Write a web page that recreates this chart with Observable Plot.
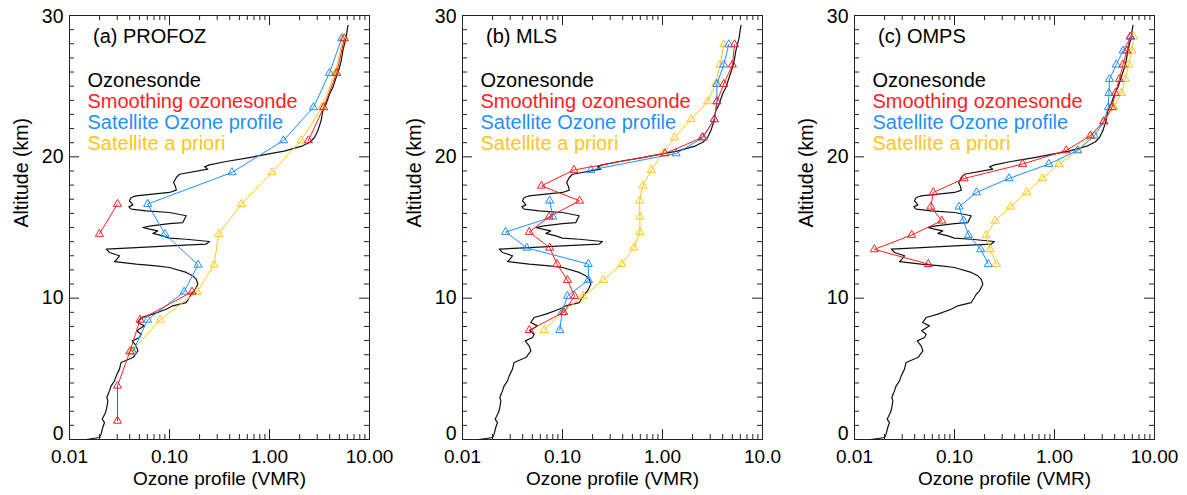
<!DOCTYPE html>
<html><head><meta charset="utf-8">
<script src="https://cdn.jsdelivr.net/npm/d3@7"></script>
<script src="https://cdn.jsdelivr.net/npm/@observablehq/plot@0.6"></script>
<style>
body{margin:0;background:#fff;}
#chart{position:relative;width:1187px;height:495px;overflow:hidden;background:#fff;}
.panel{position:absolute;top:0;}
.panel svg{overflow:visible;background:transparent;}
</style></head><body><div id="chart"></div>
<script>
// ---- Ozonesonde profile (shared by all panels): altitude (km) and VMR ----
const sondeAlt = [0.00,0.14,0.38,0.85,1.20,1.44,1.91,2.26,2.74,2.97,3.44,3.80,4.15,4.50,4.98,5.45,5.80,6.27,6.63,6.98,7.22,7.45,7.69,8.04,8.28,8.63,8.87,9.22,9.46,9.69,10.05,
  10.28,10.52,10.99,11.34,11.58,11.82,12.17,12.29,12.41,12.59,12.69,13.00,13.23,13.47,13.58,13.70,13.82,14.01,14.17,14.25,14.41,14.58,14.76,14.88,15.00,15.12,15.28,15.35,15.59,15.83,16.06,16.18,16.30,16.46,16.60,16.89,17.12,17.24,17.36,17.48,17.64,17.88,18.18,18.54,18.77,19.13,19.29,19.43,19.67,19.95,
  20.15,20.40,20.78,21.05,21.37,21.84,22.55,23.25,23.73,24.43,24.91,25.61,26.32,26.79,27.50,27.97,28.44,29.03,29.30];
const sondeVMR = [0.0147,0.0200,0.0207,0.0215,0.0224,0.0212,0.0229,0.0236,0.0242,0.0236,0.0251,0.0261,0.0282,0.0293,0.0316,0.0328,0.0430,0.0483,0.0464,0.0424,0.0501,0.0521,0.0470,0.0562,0.0480,0.0521,0.0681,0.0926,0.108,0.147,0.158,
  0.165,0.178,0.192,0.185,0.171,0.147,0.100,0.0736,0.0464,0.0282,0.0293,0.0316,0.0251,0.0233,0.0464,0.100,0.232,0.251,0.147,0.100,0.0857,0.0681,0.0763,0.0631,0.0541,0.0656,0.100,0.136,0.141,0.147,0.100,0.0584,0.0414,0.0392,0.0430,0.0398,0.0414,0.0464,0.0681,0.100,0.117,0.115,0.110,0.117,0.126,0.242,0.224,0.251,0.368,0.631,
  0.90,1.40,2.15,2.55,2.82,3.04,3.28,3.41,3.68,3.98,4.30,4.64,5.01,5.21,5.41,5.62,5.84,6.00,6.10];

// ---- (a) PROFOZ ----
const profozAlt     = [28.38,25.93,23.50,21.16,18.90,16.66,14.54,12.36,10.45,8.47,6.23,3.80,1.32];
const profozSmooth  = [5.61,4.70,3.48,2.45,null,0.0302,0.0199,null,0.168,0.0507,0.0402,0.0302,0.0302];
const profozSat     = [5.27,3.98,2.75,1.38,0.422,0.0605,0.090,0.193,0.140,0.0605,0.043,null,null];
const profozApriori = [5.45,4.55,3.35,2.07,1.06,0.523,0.311,0.279,0.189,0.0807,0.042,null,null];

// ---- (b) MLS ----
const mlsAlt     = [27.95,26.52,25.15,23.92,22.65,21.37,20.24,19.07,17.95,16.89,15.76,14.68,13.56,12.41,11.28,10.15,9.00,7.74];
const mlsSmooth  = [5.25,5.00,4.10,3.50,3.30,2.50,1.06,0.130,0.0616,0.148,0.0735,0.0465,0.0746,0.0881,0.112,0.132,0.103,0.0465];
const mlsSat     = [4.60,4.10,3.50,3.50,3.30,2.55,1.37,0.192,null,0.0745,0.080,0.027,0.0440,0.181,0.182,0.112,0.099,0.094];
const mlsApriori = [4.10,3.77,3.40,2.83,1.93,1.32,1.01,0.772,0.636,0.590,0.595,0.595,0.517,0.391,0.256,0.161,0.100,0.0655];

// ---- (c) OMPS ----
const ompsAlt     = [28.50,27.51,26.52,25.50,24.51,23.50,22.50,21.49,20.45,19.49,18.47,17.48,16.47,15.48,14.47,13.45,12.41];
const ompsSmooth  = [5.70,5.30,4.84,4.45,4.06,3.76,3.11,2.28,1.31,0.480,0.125,0.0614,0.058,0.0747,0.0373,0.0158,0.0547];
const ompsSat     = [5.80,4.85,4.15,3.55,3.50,3.45,3.11,2.51,1.70,0.879,0.351,0.166,0.111,0.123,0.138,0.183,0.218];
const ompsApriori = [6.19,5.96,5.52,5.11,4.66,3.91,3.11,2.32,1.72,1.11,0.753,0.526,0.364,0.255,0.207,0.227,0.264];

// ---- axes / labels ----
const xTickValues = [0.01, 0.1, 1, 10];
const xTickLabelsA = ["0.01","0.10","1.00","10.00"];
const xTickLabelsB = ["0.01","0.10","1.00","10.0"];
const xTickLabelsC = ["0.01","0.10","1.00","10.00"];
const yTickValues = [0, 10, 20, 30];
const legendLabels = ["Ozonesonde","Smoothing ozonesonde","Satellite Ozone profile","Satellite a priori"];
const legendColors = ["#000000","#ff1f1f","#1e90ff","#ffc619"];
const panelTitles = ["(a) PROFOZ","(b) MLS","(c) OMPS"];

const FONT = "'Liberation Sans', Arial, Helvetica, sans-serif";
const W = 300, H = 424;

function makePanel(title, alt, smooth, sat, apriori, tickLabels, mL, left) {
  const mR = 30, mT = 15, mB = 56;
  const sonde = sondeAlt.map((a, i) => ({alt: a, vmr: sondeVMR[i]}));
  const rows = v => alt.map((a, i) => ({alt: a, vmr: v[i]}));
  const series = [
    {data: rows(apriori), color: legendColors[3]},
    {data: rows(sat), color: legendColors[2]},
    {data: rows(smooth), color: legendColors[1]}
  ];
  const lbl = new Map(xTickValues.map((v, i) => [v, tickLabels[i]]));
  const yMajor = yTickValues;
  const yMinor = d3.range(0, 31).filter(v => v % 10 !== 0);
  const xMinor = [0.01, 0.1, 1].flatMap(d => d3.range(2, 10).map(k => +(d * k).toPrecision(3)));
  const tickStroke = "#222";
  const yAxisOpts = {tickFormat: d => String(d), tickSize: 0, tickPadding: 6, fontSize: 19.5, label: null};
  const marks = [
    Plot.frame({stroke: "#222", strokeWidth: 1}),
    // inward ticks on all four sides
    Plot.tickY(yMajor, {y: d => d, insetRight: W - 10, stroke: tickStroke}),
    Plot.tickY(yMinor, {y: d => d, insetRight: W - 5, stroke: tickStroke}),
    Plot.tickY(yMajor, {y: d => d, insetLeft: W - 10, stroke: tickStroke}),
    Plot.tickY(yMinor, {y: d => d, insetLeft: W - 5, stroke: tickStroke}),
    Plot.tickX(xTickValues, {x: d => d, insetTop: H - 10, stroke: tickStroke}),
    Plot.tickX(xMinor, {x: d => d, insetTop: H - 5, stroke: tickStroke}),
    Plot.tickX(xTickValues, {x: d => d, insetBottom: H - 10, stroke: tickStroke}),
    Plot.tickX(xMinor, {x: d => d, insetBottom: H - 5, stroke: tickStroke}),
    Plot.axisX({ticks: xTickValues, tickFormat: d => lbl.get(d), tickSize: 0, tickPadding: 10, fontSize: 19, label: null}),
    // y tick labels: end labels kept inside the frame height, as in the reference
    Plot.axisY({ticks: yTickValues.slice(1, 3), ...yAxisOpts}),
    Plot.axisY({ticks: yTickValues.slice(0, 1), ...yAxisOpts, dy: -6}),
    Plot.axisY({ticks: yTickValues.slice(3), ...yAxisOpts, dy: 1.5}),
    Plot.text(["Ozone profile (VMR)"], {frameAnchor: "bottom", dy: 45, lineAnchor: "bottom", fontSize: 19, fill: "#000"}),
    Plot.text(["Altitude (km)"], {frameAnchor: "left", dx: -48, rotate: -90, lineAnchor: "middle", fontSize: 19.5, fill: "#000"}),
    // ozonesonde
    Plot.line(sonde, {x: "vmr", y: "alt", stroke: "#111", strokeWidth: 1.2}),
  ];
  for (const s of series) {
    marks.push(Plot.line(s.data, {x: "vmr", y: "alt", stroke: s.color, strokeWidth: 1}));
    marks.push(Plot.dot(s.data.filter(d => d.vmr != null), {x: "vmr", y: "alt", symbol: "triangle", r: 3, stroke: s.color, fill: "none", strokeWidth: 1}));
  }
  marks.push(Plot.text([title], {frameAnchor: "top-left", dx: 23.5, dy: 27, lineAnchor: "bottom", textAnchor: "start", fontSize: 20, fill: "#000"}));
  const legendDy = [71.3, 92.5, 113.6, 134.7];
  legendLabels.forEach((t, i) => {
    marks.push(Plot.text([t], {frameAnchor: "top-left", dx: 18, dy: legendDy[i], lineAnchor: "bottom", textAnchor: "start", fontSize: 20, fill: legendColors[i]}));
  });
  const svg = Plot.plot({
    width: mL + W + mR, height: mT + H + mB,
    marginLeft: mL, marginRight: mR, marginTop: mT, marginBottom: mB,
    x: {type: "log", domain: [0.01, 10]},
    y: {domain: [0, 30]},
    style: {fontFamily: FONT, fontSize: "20px", background: "transparent", overflow: "visible", color: "#000"},
    marks
  });
  const div = document.createElement("div");
  div.className = "panel";
  div.style.left = left + "px";
  div.style.width = (mL + W + mR) + "px";
  div.appendChild(svg);
  document.getElementById("chart").appendChild(div);
}

makePanel(panelTitles[0], profozAlt, profozSmooth, profozSat, profozApriori, xTickLabelsA, 69, 0);
makePanel(panelTitles[1], mlsAlt, mlsSmooth, mlsSat, mlsApriori, xTickLabelsB, 70, 392);
makePanel(panelTitles[2], ompsAlt, ompsSmooth, ompsSat, ompsApriori, xTickLabelsC, 70, 784);
</script></body></html>
